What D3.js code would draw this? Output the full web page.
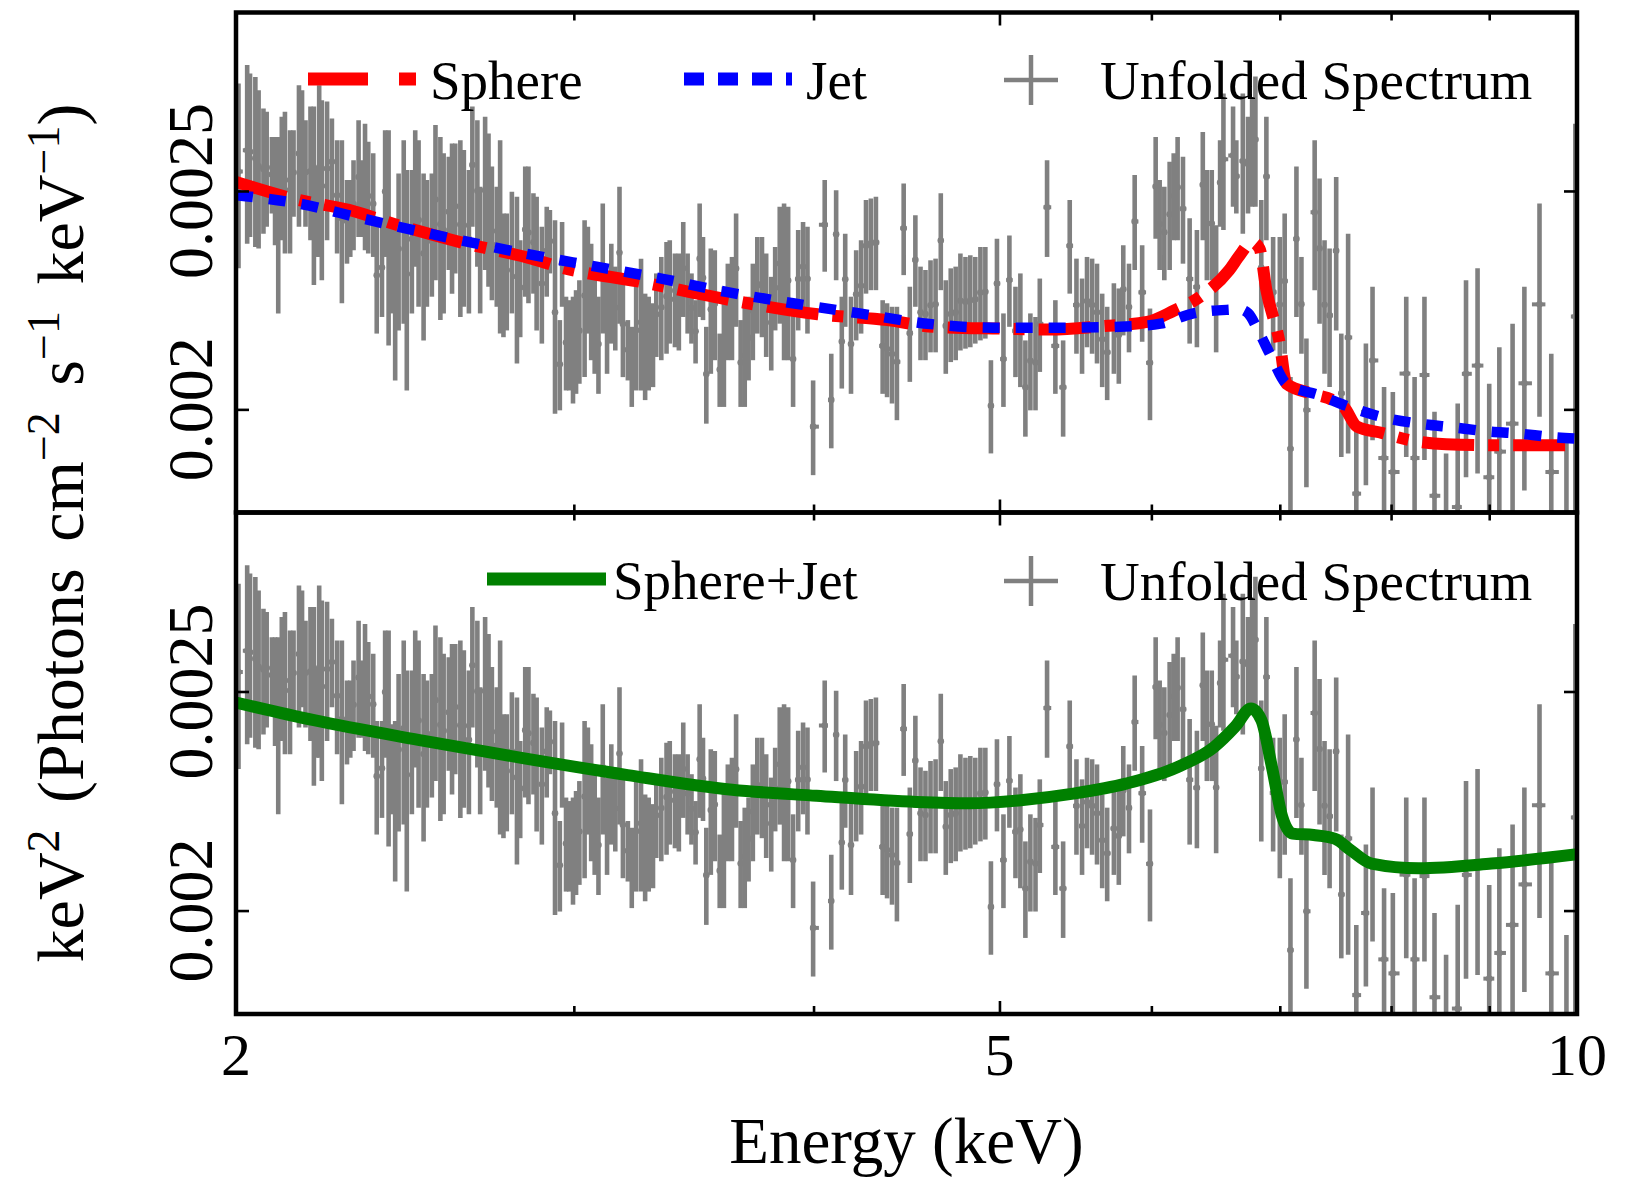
<!DOCTYPE html>
<html><head><meta charset="utf-8">
<script src="https://cdn.jsdelivr.net/npm/d3@7"></script>
<style>
body{margin:0;background:#fff;}
svg{display:block;}
text{font-family:"Liberation Serif","Times New Roman",serif;fill:#000;white-space:pre;}
</style>
</head><body>
<svg id="chart" width="1632" height="1180"></svg>
<script>
// ---------------- DATA (flux values in units of 1e-3 keV^2 photons cm^-2 s^-1 keV^-1) ----------------
const FLUX_UNIT = 1e-3;

// Unfolded spectrum: bin centre energy (keV) and lower / upper end of the error bar
const energy = [
2.006,2.027,2.034,2.047,2.055,2.067,2.075,2.088,2.096,2.104,2.113,2.121,2.134,2.143,2.157,2.165,2.174,2.187,2.196,2.204,
2.210,2.217,2.231,2.244,2.258,2.271,2.285,2.294,2.303,2.317,2.326,2.335,2.344,2.358,2.368,2.383,2.392,2.402,2.412,2.421,
2.431,2.446,2.455,2.470,2.480,2.490,2.505,2.515,2.530,2.541,2.556,2.566,2.582,2.592,2.602,2.618,2.629,2.645,2.656,2.672,
2.681,2.697,2.708,2.719,2.735,2.746,2.757,2.768,2.785,2.802,2.813,2.830,2.841,2.858,2.869,2.887,2.904,2.915,2.933,
2.950,2.958,2.972,2.984,2.997,3.008,3.020,3.039,3.051,3.063,3.076,3.090,3.106,3.122,3.138,3.153,3.169,3.182,3.201,3.216,
3.233,3.252,3.268,3.282,3.299,3.312,3.332,3.353,3.366,3.387,3.403,3.421,3.439,3.455,3.472,3.489,3.503,3.517,3.536,3.553,
3.574,3.592,3.609,3.627,3.645,3.665,3.683,3.700,3.719,3.739,3.760,3.779,3.802,3.820,3.841,3.861,3.880,3.903,3.927,3.950,
3.971,3.998,4.054,4.086,4.110,4.138,4.155,4.184,4.210,4.235,4.260,4.285,4.311,4.346,
4.369,4.395,4.421,4.457,4.490,4.520,4.548,4.575,4.603,4.631,4.660,4.688,4.716,4.744,4.771,4.800,4.828,4.857,4.887,4.916,
4.949,4.985,5.024,5.060,5.097,5.127,5.158,5.189,5.221,5.248,5.294,5.347,5.397,5.440,5.484,5.521,5.554,5.588,5.621,5.656,
5.690,5.736,5.770,5.801,5.841,5.881,5.934,5.990,6.031,6.060,6.094,6.133,6.163,6.192,6.232,6.282,6.337,6.382,6.413,6.451,
6.485,6.516,6.542,
6.618,6.644,6.696,6.738,6.771,6.798,6.846,6.888,6.944,7.000,7.041,7.090,7.141,7.184,7.227,7.299,7.342,7.386,7.431,7.490,
7.536,7.598,7.673,7.762,7.824,7.933,8.017,8.147,8.229,8.327,8.428,8.546,8.666,8.753,8.875,9.000,9.110,9.256,9.388,9.560,
9.696,9.874,9.980];

const fluxLow = [
2.310,2.369,2.385,2.361,2.357,2.393,2.410,2.443,2.365,2.206,2.377,2.345,2.345,2.435,2.410,2.460,2.410,2.377,2.271,2.337,
2.337,2.282,2.377,2.460,2.345,2.229,2.321,2.337,2.353,2.385,2.385,2.353,2.345,2.337,2.161,2.198,2.337,2.135,2.206,2.060,
2.168,2.183,2.039,2.206,2.314,2.221,2.146,2.221,2.244,2.282,2.191,2.206,2.306,2.251,2.298,2.198,2.221,2.206,2.410,2.314,
2.206,2.306,2.267,2.236,2.221,2.161,2.153,2.168,2.206,2.096,2.153,2.244,2.229,2.251,2.168,2.139,2.244,2.298,1.991,
1.998,2.221,2.039,2.039,2.012,2.032,2.053,2.067,2.161,2.103,2.074,2.032,2.161,2.074,2.139,2.124,2.183,2.067,2.060,2.005,
2.039,2.039,2.019,2.039,2.046,2.110,2.103,2.117,2.139,2.131,2.124,2.198,2.161,2.139,2.096,2.198,2.191,1.971,2.074,2.103,
2.005,2.005,2.103,2.103,2.176,2.005,2.005,2.060,2.103,2.161,2.153,2.110,2.081,2.168,2.183,2.103,2.103,2.005,2.168,2.206,
2.161,1.870,2.302,1.922,2.282,2.043,2.176,2.032,2.146,2.161,2.251,2.259,2.259,2.032,
2.025,2.012,1.978,2.294,2.057,2.221,2.103,2.103,2.120,2.120,2.259,2.074,2.099,2.103,2.124,2.128,2.131,2.139,2.146,2.150,
1.912,2.168,2.005,2.176,2.067,2.046,1.945,1.998,1.998,2.078,2.337,2.032,1.945,2.251,2.117,2.074,2.131,2.117,2.096,2.046,
2.019,2.074,2.053,2.157,2.120,2.306,2.143,1.978,2.381,2.306,2.282,2.306,2.377,2.377,2.321,2.139,2.131,2.377,2.282,2.282,
2.120,2.410,2.402,
2.460,2.443,2.393,2.443,2.460,2.460,2.146,2.377,2.124,2.067,2.117,1.775,2.198,2.117,1.847,2.259,2.183,2.074,2.046,2.168,
1.905,1.912,1.699,1.851,1.938,1.760,1.716,1.905,1.739,1.899,1.667,1.660,1.608,1.866,1.873,1.679,1.700,1.759,1.841,1.985,
1.635,1.600,1.720];

const fluxHigh = [
2.790,2.843,2.819,2.809,2.771,2.720,2.711,2.642,2.642,2.642,2.697,2.711,2.660,2.660,2.785,2.771,2.687,2.725,2.725,2.563,
2.785,2.743,2.739,2.692,2.633,2.633,2.528,2.528,2.580,2.687,2.580,2.678,2.629,2.598,2.426,2.426,2.660,2.660,2.418,2.426,
2.545,2.633,2.554,2.554,2.660,2.633,2.545,2.528,2.545,2.674,2.642,2.598,2.589,2.624,2.624,2.633,2.607,2.554,2.725,2.687,
2.511,2.697,2.651,2.563,2.511,2.633,2.443,2.443,2.498,2.485,2.377,2.563,2.563,2.494,2.485,2.410,2.460,2.452,2.426,
2.191,2.422,2.244,2.236,2.244,2.259,2.282,2.426,2.410,2.369,2.306,2.244,2.468,2.290,2.369,2.314,2.511,2.298,2.191,2.176,
2.298,2.333,2.251,2.244,2.229,2.298,2.337,2.373,2.377,2.345,2.345,2.422,2.345,2.298,2.236,2.468,2.385,2.176,2.357,2.353,
2.161,2.267,2.321,2.337,2.443,2.191,2.221,2.244,2.321,2.385,2.385,2.345,2.290,2.361,2.460,2.468,2.460,2.206,2.402,2.422,
2.410,2.060,2.528,2.117,2.502,2.244,2.393,2.244,2.353,2.377,2.477,2.481,2.485,2.236,
2.229,2.221,2.221,2.519,2.267,2.439,2.314,2.306,2.329,2.333,2.494,2.282,2.310,2.314,2.345,2.337,2.341,2.337,2.361,2.361,
2.103,2.381,2.206,2.389,2.267,2.298,2.146,2.206,2.198,2.286,2.580,2.236,2.146,2.477,2.333,2.286,2.337,2.333,2.321,2.251,
2.221,2.275,2.263,2.365,2.321,2.541,2.365,2.217,2.642,2.528,2.511,2.576,2.598,2.642,2.589,2.431,2.402,2.655,2.554,2.554,
2.414,2.633,2.762,
2.725,2.633,2.762,2.697,2.752,2.810,2.477,2.697,2.385,2.385,2.443,2.067,2.563,2.337,2.150,2.633,2.532,2.377,2.357,2.536,
2.161,2.393,1.971,2.139,2.267,2.046,2.036,2.244,2.067,2.244,1.995,1.912,2.012,2.282,2.310,2.053,2.131,2.183,2.267,2.468,
2.117,1.951,2.678];

// Model curves
const sphereEnergy = [2.0,2.157,2.29,2.43,2.636,2.852,2.944,3.251,3.623,4.02,4.372,4.62,5.006,5.315,5.645,5.97,6.163,6.363,6.588,6.671,6.77,6.832,6.888,7.0,7.056,7.28,7.46,7.56,7.68,7.92,8.18,8.547,9.112,10.0];
const sphereFlux   = [2.523,2.477,2.452,2.414,2.369,2.333,2.314,2.278,2.236,2.204,2.191,2.176,2.172,2.170,2.177,2.187,2.212,2.244,2.306,2.341,2.373,2.357,2.259,2.139,2.053,2.032,2.019,2.005,1.965,1.952,1.938,1.930,1.928,1.928];

const jetEnergy = [2.0,2.157,2.326,2.571,2.83,3.082,3.332,3.602,3.903,4.227,4.584,4.964,5.40,5.853,6.066,6.31,6.566,6.671,6.74,6.82,6.93,7.056,7.342,7.61,7.92,8.278,8.6,8.96,9.333,9.71,10.0];
const jetFlux   = [2.489,2.468,2.431,2.385,2.345,2.314,2.286,2.255,2.229,2.206,2.183,2.174,2.174,2.177,2.183,2.206,2.214,2.215,2.206,2.168,2.110,2.053,2.029,2.005,1.984,1.971,1.964,1.956,1.951,1.944,1.941];

const totalEnergy = [2.0,2.196,2.489,2.822,3.200,3.628,4.014,4.526,4.821,5.130,5.463,5.820,6.193,6.471,6.635,6.762,6.847,6.934,7.021,7.108,7.290,7.476,7.621,7.815,8.268,9.025,10.0];
const totalFlux   = [2.472,2.428,2.380,2.336,2.296,2.262,2.248,2.234,2.231,2.238,2.253,2.276,2.315,2.363,2.412,2.457,2.428,2.315,2.200,2.163,2.160,2.152,2.127,2.098,2.088,2.098,2.118];

// Axes
const xMajorTicks = [2, 5, 10];
const xTickLabels = ["2", "5", "10"];
const xMinorTicks = [3, 4, 6, 7, 8, 9];
const yTicks = [0.002, 0.0025];
const yTickLabels = ["0.002", "0.0025"];
const xDomain = [2, 10];
const yDomain = [0.0018, 0.003];

if (energy.length !== fluxLow.length || energy.length !== fluxHigh.length) {
  throw new Error("length mismatch " + energy.length + " " + fluxLow.length + " " + fluxHigh.length);
}

// ---------------- DRAWING ----------------
const GRAY = "#808080";
const svg = d3.select("#chart");
const L = 236, R = 1577;
const panels = [{top: 12.5, bottom: 512.5}, {top: 512.5, bottom: 1014}];
const x = d3.scaleLog().domain(xDomain).range([L, R]);

const bins = energy.map((e, i) => ({
  e,
  lo: fluxLow[i] * FLUX_UNIT,
  hi: fluxHigh[i] * FLUX_UNIT,
  e0: i === 0 ? xDomain[0] : Math.sqrt(energy[i - 1] * e),
  e1: i === energy.length - 1 ? xDomain[1] : Math.sqrt(e * energy[i + 1])
}));

function modelLine(y) {
  return d3.line().x(d => x(d[0])).y(d => y(d[1] * FLUX_UNIT)).curve(d3.curveMonotoneX);
}

function drawTicks(axisFn, scale, values, size, tx, ty) {
  const g = svg.append("g").attr("transform", `translate(${tx},${ty})`)
    .call(axisFn(scale).tickValues(values).tickSize(size).tickFormat(""));
  g.select(".domain").remove();
  g.selectAll("line").attr("stroke", "#000").attr("stroke-width", 2.6);
}

panels.forEach((p, idx) => {
  const y = d3.scaleLog().domain(yDomain).range([p.bottom, p.top]);
  const clipId = "clip" + idx;
  svg.append("clipPath").attr("id", clipId).append("rect")
    .attr("x", L).attr("y", p.top).attr("width", R - L).attr("height", p.bottom - p.top);
  const g = svg.append("g").attr("clip-path", `url(#${clipId})`);

  // data: x error (bin width) and y error
  const dg = g.append("g").attr("stroke", GRAY).attr("stroke-linecap", "butt");
  dg.selectAll("line.xe").data(bins).join("line").attr("class", "xe")
    .attr("x1", d => x(d.e0)).attr("x2", d => x(d.e1))
    .attr("y1", d => y((d.lo + d.hi) / 2)).attr("y2", d => y((d.lo + d.hi) / 2))
    .attr("stroke-width", 4);
  dg.selectAll("line.ye").data(bins).join("line").attr("class", "ye")
    .attr("x1", d => x(d.e)).attr("x2", d => x(d.e))
    .attr("y1", d => y(d.lo)).attr("y2", d => y(d.hi))
    .attr("stroke-width", 4.6);
  g.append("g").selectAll("circle").data(bins).join("circle")
    .attr("cx", d => x(d.e)).attr("cy", d => y((d.lo + d.hi) / 2)).attr("r", 3.3)
    .attr("fill", GRAY);

  const line = modelLine(y);
  if (idx === 0) {
    g.append("path").datum(d3.zip(sphereEnergy, sphereFlux)).attr("d", line)
      .attr("fill", "none").attr("stroke", "#ff0000").attr("stroke-width", 12)
      .attr("stroke-dasharray", "52,14,11,14");
    g.append("path").datum(d3.zip(jetEnergy, jetFlux)).attr("d", line)
      .attr("fill", "none").attr("stroke", "#0000ff").attr("stroke-width", 10.5)
      .attr("stroke-dasharray", "17,16");
  } else {
    g.append("path").datum(d3.zip(totalEnergy, totalFlux)).attr("d", line)
      .attr("fill", "none").attr("stroke", "#008000").attr("stroke-width", 12)
      .attr("stroke-linejoin", "round");
  }

  // ticks (inward)
  drawTicks(d3.axisTop, x, xMajorTicks, -13, 0, p.top);
  drawTicks(d3.axisTop, x, xMinorTicks, -8, 0, p.top);
  drawTicks(d3.axisBottom, x, xMajorTicks, -13, 0, p.bottom);
  drawTicks(d3.axisBottom, x, xMinorTicks, -8, 0, p.bottom);
  drawTicks(d3.axisLeft, y, yTicks, -13, L, 0);
  drawTicks(d3.axisRight, y, yTicks, -13, R, 0);

  // frame
  svg.append("rect").attr("x", L).attr("y", p.top).attr("width", R - L).attr("height", p.bottom - p.top)
    .attr("fill", "none").attr("stroke", "#000").attr("stroke-width", 4.5);

  // y tick labels (rotated)
  yTicks.forEach((v, i) => {
    svg.append("text").attr("transform", `translate(212,${y(v)}) rotate(-90)`)
      .attr("text-anchor", "middle").attr("font-size", 64).text(yTickLabels[i]);
  });
});

// x tick labels
xMajorTicks.forEach((v, i) => {
  svg.append("text").attr("x", x(v)).attr("y", 1075).attr("text-anchor", "middle")
    .attr("font-size", 60).text(xTickLabels[i]);
});

// x axis title
svg.append("text").attr("x", (L + R) / 2).attr("y", 1163).attr("text-anchor", "middle")
  .attr("font-size", 65).text("Energy (keV)");

// y axis title
const yt = svg.append("text").attr("transform", "translate(83,533) rotate(-90)")
  .attr("text-anchor", "middle").attr("font-size", 66).attr("word-spacing", 10);
const parts = [["keV", 0], ["2", 1], [" (Photons cm", 0], ["\u22122", 1], [" s", 0], ["\u22121", 1], [" keV", 0], ["\u22121", 1], [")", 0]];
let prevSup = 0;
parts.forEach(([t, sup]) => {
  const ts = yt.append("tspan").text(t);
  const shift = (sup - prevSup) * -24;
  if (shift !== 0) ts.attr("dy", shift);
  if (sup) ts.attr("font-size", 46);
  prevSup = sup;
});

// legends
const lg = svg.append("g");
function legendPlus(cx, cy) {
  lg.append("line").attr("x1", cx - 27).attr("x2", cx + 27).attr("y1", cy).attr("y2", cy)
    .attr("stroke", GRAY).attr("stroke-width", 4.5);
  lg.append("line").attr("x1", cx).attr("x2", cx).attr("y1", cy - 25).attr("y2", cy + 25)
    .attr("stroke", GRAY).attr("stroke-width", 4.5);
}
lg.append("line").attr("x1", 308).attr("x2", 417).attr("y1", 79).attr("y2", 79)
  .attr("stroke", "#ff0000").attr("stroke-width", 13).attr("stroke-dasharray", "60,31,17,200");
lg.append("text").attr("x", 430).attr("y", 98.5).attr("font-size", 55).text("Sphere");
lg.append("line").attr("x1", 684).attr("x2", 792).attr("y1", 79).attr("y2", 79)
  .attr("stroke", "#0000ff").attr("stroke-width", 13).attr("stroke-dasharray", "20,14");
lg.append("text").attr("x", 806).attr("y", 98.5).attr("font-size", 55).text("Jet");
legendPlus(1031, 80);
lg.append("text").attr("x", 1100).attr("y", 98.5).attr("font-size", 55).text("Unfolded Spectrum");

lg.append("line").attr("x1", 487).attr("x2", 606).attr("y1", 579).attr("y2", 579)
  .attr("stroke", "#008000").attr("stroke-width", 13);
lg.append("text").attr("x", 613).attr("y", 599).attr("font-size", 55).text("Sphere+Jet");
legendPlus(1031, 581);
lg.append("text").attr("x", 1100).attr("y", 600).attr("font-size", 55).text("Unfolded Spectrum");
</script>
</body></html>
